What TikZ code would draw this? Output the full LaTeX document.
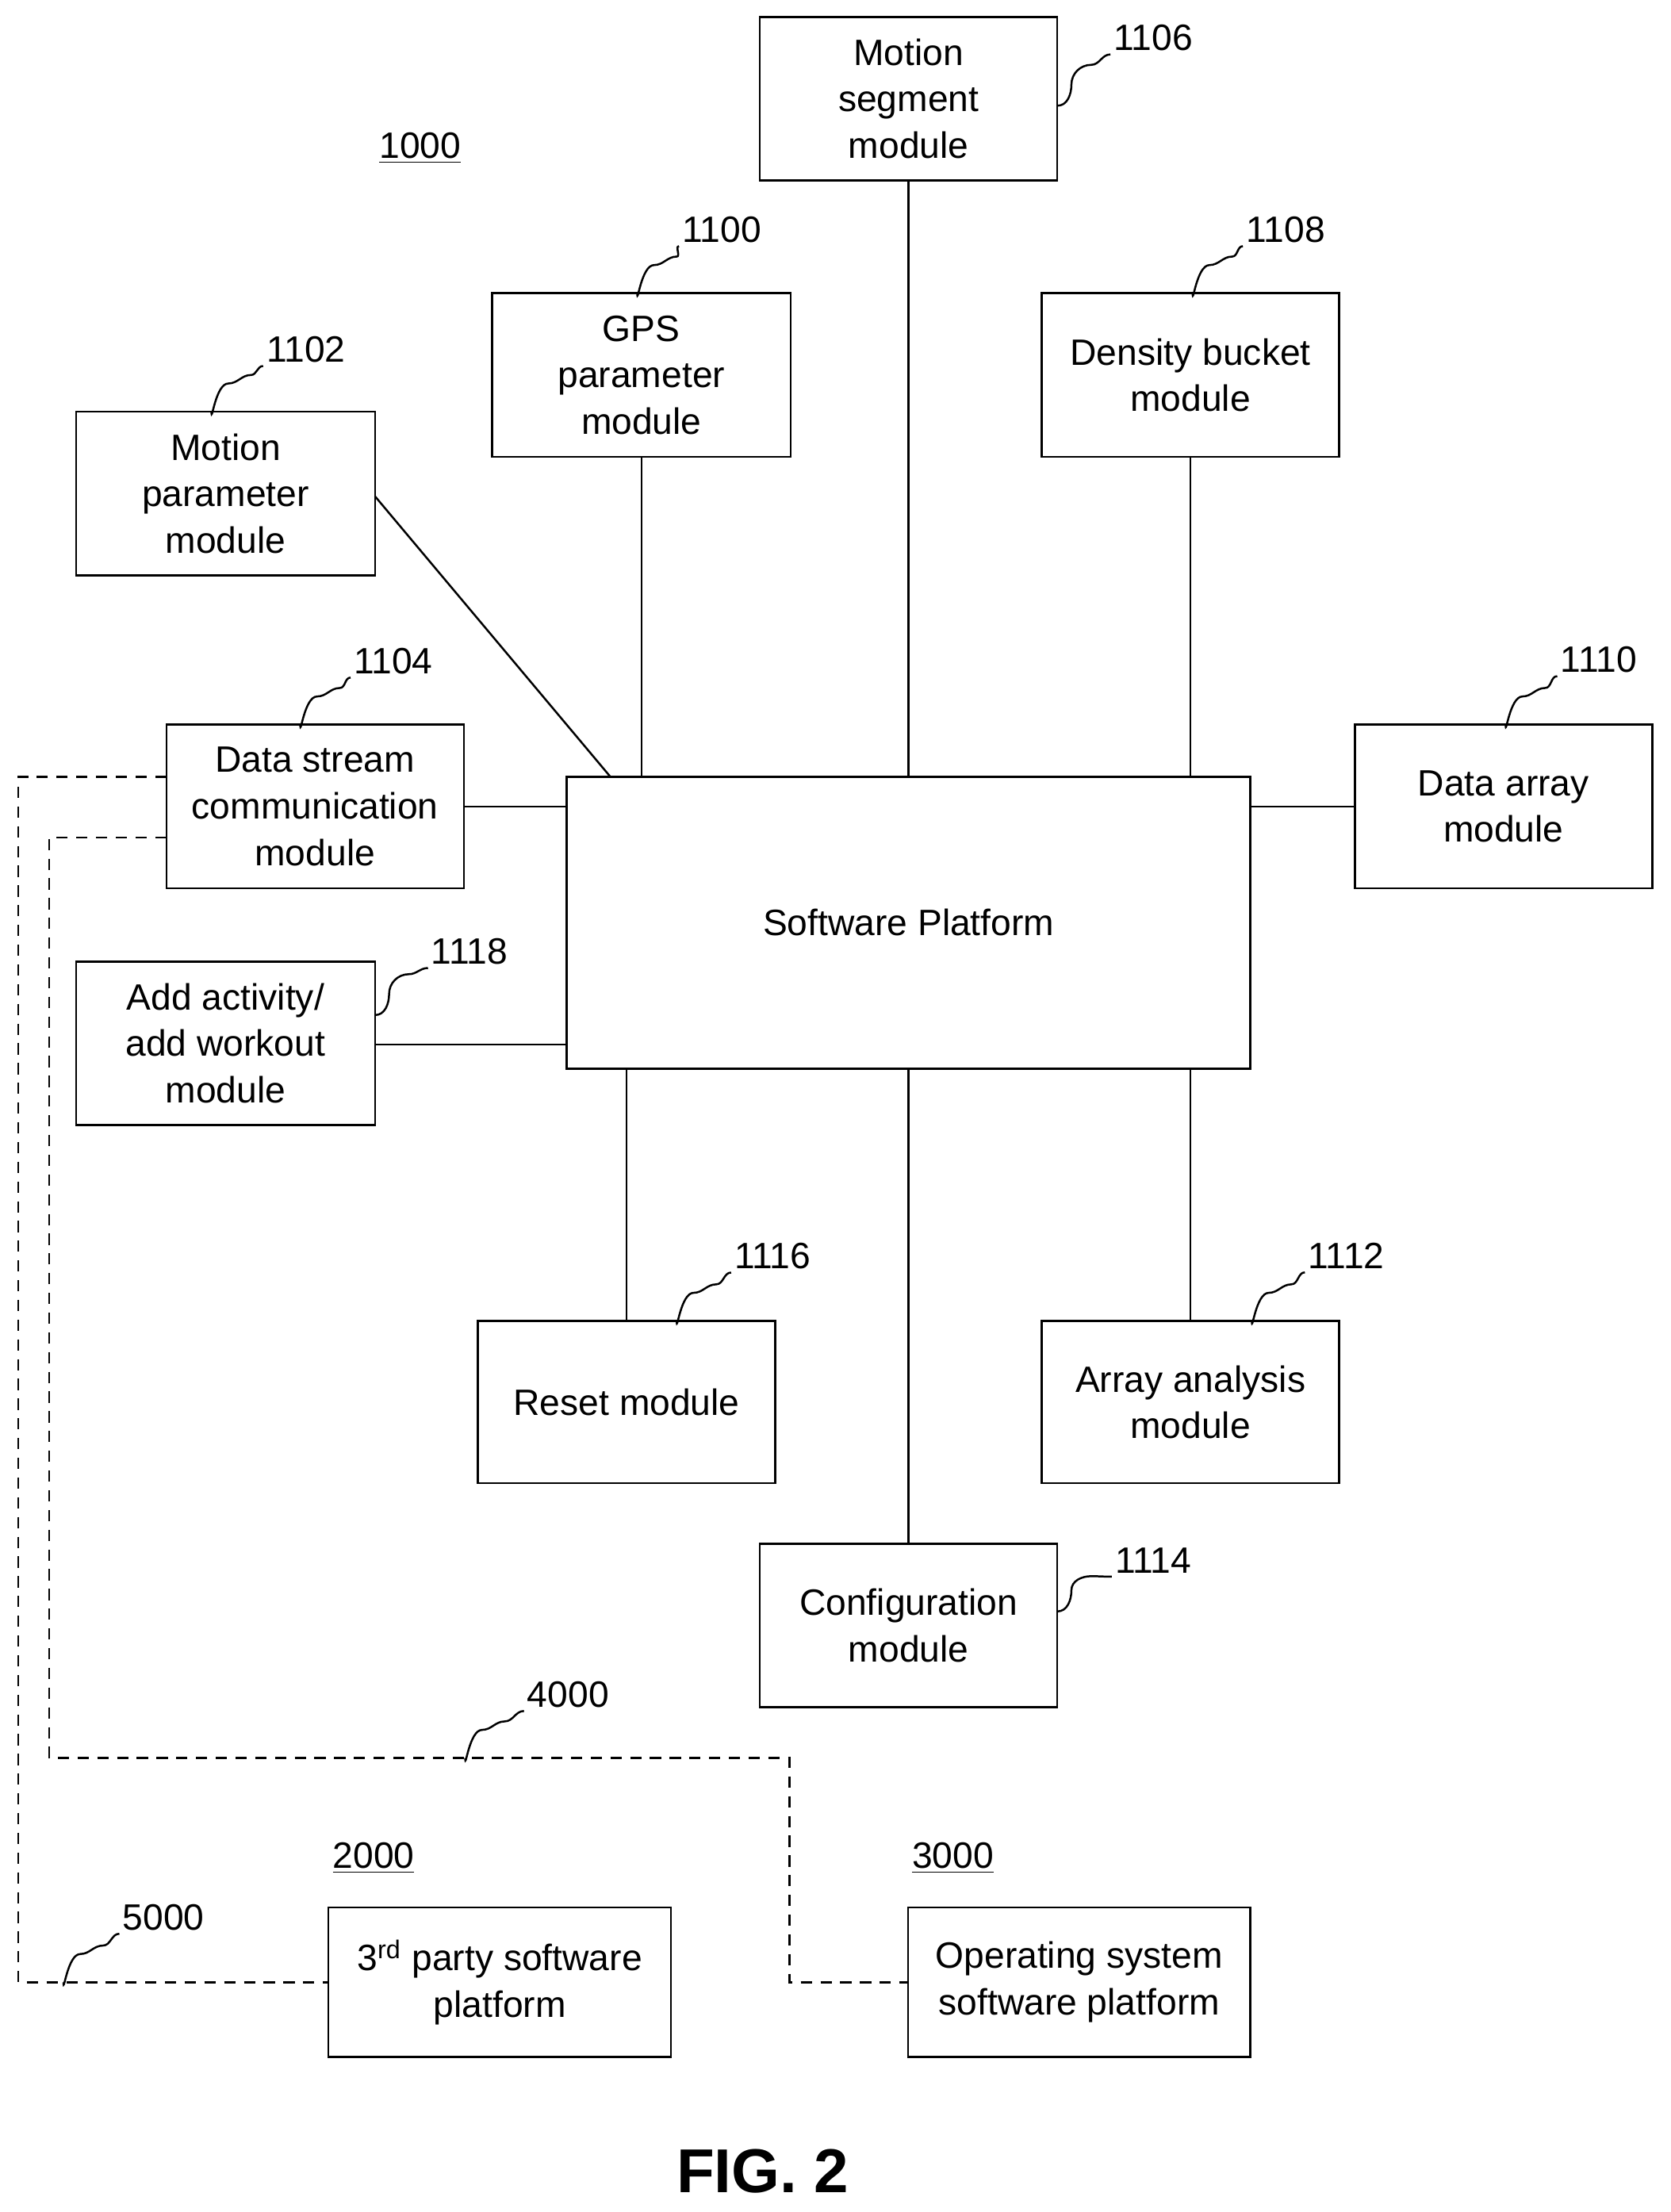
\documentclass[tikz,border=0pt]{standalone}
\usepackage{fontspec}
\setmainfont{Liberation Sans}
\begin{document}
\begin{tikzpicture}[x=0.5pt,y=-0.5pt,
  box/.style={draw,line width=0.7pt,align=center,font=\fontsize{13}{16.5}\selectfont,inner sep=0pt},
  lab/.style={font=\fontsize{13}{16}\selectfont,inner sep=1pt},
  ln/.style={line width=0.7pt},
  dsh/.style={line width=0.7pt,dash pattern=on 4pt off 3pt},
  sq/.style={line width=0.7pt}]
\useasboundingbox (0,0) rectangle (1185,1569);
\newcommand{\bx}[6]{\node[box,minimum width={(#4-#2)*0.5pt},minimum height={(#5-#3)*0.5pt}] (#1) at ({(#2+#4)/2},{(#3+#5)/2}) {#6};}
\bx{ms}{539}{12}{750}{128}{Motion\\segment\\module}
\bx{gps}{349}{208}{561}{324}{GPS\\parameter\\module}
\bx{db}{739}{208}{950}{324}{Density bucket\\module}
\bx{mp}{54}{292}{266}{408}{Motion\\parameter\\module}
\bx{ds}{118}{514}{329}{630}{Data stream\\communication\\module}
\bx{da}{961}{514}{1172}{630}{Data array\\module}
\bx{sp}{402}{551}{887}{758}{Software Platform}
\bx{aa}{54}{682}{266}{798}{Add activity/\\add workout\\module}
\bx{rs}{339}{937}{550}{1052}{Reset module}
\bx{an}{739}{937}{950}{1052}{Array analysis\\module}
\bx{cf}{539}{1095}{750}{1211}{Configuration\\module}
\bx{tp}{233}{1353}{476}{1459}{3\textsuperscript{rd} party software\\platform}
\bx{os}{644}{1353}{887}{1459}{Operating system\\software platform}
% connectors
\draw[ln] (ms.south) -- (sp.north);
\draw[ln] (gps.south) -- (gps.south |- sp.north);
\draw[ln] (db.south) -- (db.south |- sp.north);
\draw[ln] (266,352) -- (433,551);
\draw[ln] (329,572) -- (402,572);
\draw[ln] (887,572) -- (961,572);
\draw[ln] (266,741) -- (402,741);
\draw[ln] (rs.north) -- (rs.north |- sp.south);
\draw[ln] (cf.north) -- (sp.south);
\draw[ln] (an.north) -- (an.north |- sp.south);
% dashed
\draw[dsh] (118,551) -- (13,551) -- (13,1406) -- (233,1406);
\draw[dsh] (118,594) -- (35,594) -- (35,1247) -- (560,1247) -- (560,1406) -- (644,1406);
% labels
\node[lab] (l1000) at (298,105) {\underline{1000}};
\node[lab] (l2000) at (265,1318) {\underline{2000}};
\node[lab] (l3000) at (676,1318) {\underline{3000}};
\node[lab] (l1106) at (818,27) {1106};
\node[lab] (l1100) at (512,163) {1100};
\node[lab] (l1108) at (912,163) {1108};
\node[lab] (l1102) at (217,248) {1102};
\node[lab] (l1104) at (279,469) {1104};
\node[lab] (l1110) at (1134,468) {1110};
\node[lab] (l1118) at (333,675) {1118};
\node[lab] (l1116) at (548,891) {1116};
\node[lab] (l1112) at (955,891) {1112};
\node[lab] (l1114) at (818,1107) {1114};
\node[lab] (l4000) at (403,1202) {4000};
\node[lab] (l5000) at (116,1360) {5000};
\node[font=\bfseries\fontsize{22}{26}\selectfont] (fig) at (541,1540) {FIG. 2};
% squiggles
\newcommand{\sqg}[3]{\draw[sq] (#1,#2) to[out=-90,in=180] ++(12,-20) to[out=0,in=180] ++(16,-6) to[out=0,in=180] (#3.south west);}
\sqg{452}{208}{l1100}
\sqg{846}{208}{l1108}
\sqg{150}{292}{l1102}
\sqg{213}{514}{l1104}
\sqg{1068}{514}{l1110}
\sqg{480}{937}{l1116}
\sqg{888}{937}{l1112}
\sqg{330}{1247}{l4000}
\sqg{45}{1406}{l5000}
\draw[sq] (750,75) to[out=0,in=-90] ++(10,-15) to[out=90,in=180] ++(14,-14) to[out=0,in=180] (l1106.south west);
\draw[sq] (266,720) to[out=0,in=-90] ++(10,-15) to[out=90,in=180] ++(14,-14) to[out=0,in=180] (l1118.south west);
\draw[sq] (750,1143) to[out=0,in=-90] ++(10,-15) to[out=90,in=180] ++(14,-10) to[out=0,in=180] (l1114.south west);
\end{tikzpicture}
\end{document}
